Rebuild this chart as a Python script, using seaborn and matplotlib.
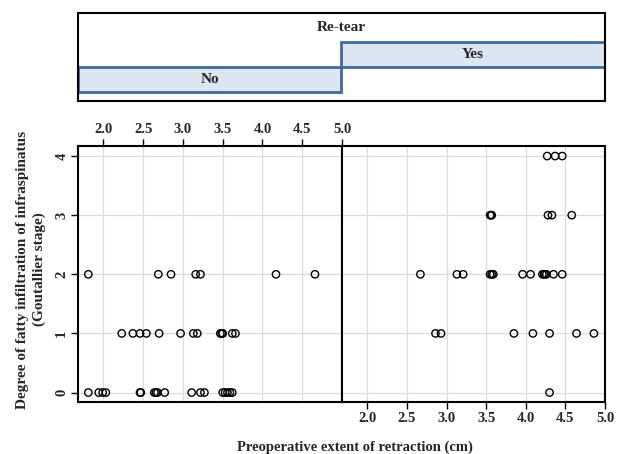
import matplotlib
matplotlib.use('Agg')

import pandas as pd
import matplotlib.pyplot as plt
import seaborn as sns

# 数据
no_retraction = [1.81, 2.69, 2.85, 3.16, 3.22, 4.17, 4.66,
                 2.23, 2.37, 2.46, 2.54, 2.70, 2.97, 3.13, 3.18, 3.47, 3.49, 3.50, 3.62, 3.66,
                 1.81, 1.94, 1.99, 2.03, 2.46, 2.47, 2.64, 2.66, 2.68, 2.77, 3.11, 3.22, 3.27,
                 3.50, 3.53, 3.56, 3.59, 3.62]
no_stage = [2] * 7 + [1] * 13 + [0] * 18

yes_retraction = [4.27, 4.37, 4.46,
                  3.55, 3.56, 3.57, 4.28, 4.33, 4.58,
                  2.67, 3.13, 3.21, 3.55, 3.57, 3.59, 3.96, 4.06, 4.21, 4.23, 4.24, 4.26, 4.35, 4.46,
                  2.86, 2.93, 3.85, 4.09, 4.30, 4.64, 4.86,
                  4.30]
yes_stage = [4] * 3 + [3] * 6 + [2] * 14 + [1] * 7 + [0]

groups = ['No', 'Yes']
x_ticks = [2.0, 2.5, 3.0, 3.5, 4.0, 4.5, 5.0]
y_ticks = [0, 1, 2, 3, 4]

df = pd.DataFrame({
    'retraction': no_retraction + yes_retraction,
    'stage': no_stage + yes_stage,
    'retear': ['No'] * len(no_retraction) + ['Yes'] * len(yes_retraction),
})

sns.set_theme(style='white')
plt.rcParams['font.family'] = ['Liberation Serif', 'DejaVu Serif']
plt.rcParams['font.weight'] = 'bold'

fig = plt.figure(figsize=(6.18, 4.54), dpi=100)
L, R = 78 / 618, 605 / 618
M = 342 / 618
bot, top = 1 - 402 / 454, 1 - 146 / 454

# 条带面板
ax_s = fig.add_axes([L, 1 - 101 / 454, R - L, 88 / 454])
ax_s.bar([0, 1], [1, 1], bottom=[0, 1], width=1, align='edge',
         color='#dce6f2', edgecolor='#3f6a95', linewidth=2, zorder=2)
ax_s.set_xlim(0, 2)
ax_s.set_ylim(-0.36, 3.16)
ax_s.set_xticks([])
ax_s.set_yticks([])
for i, g in enumerate(groups):
    ax_s.text(i + 0.5, i + 0.5, g, ha='center', va='center', fontsize=11, fontweight='bold')
ax_s.text(1, 2.6, 'Re-tear', ha='center', va='center', fontsize=11, fontweight='bold')
for sp in ax_s.spines.values():
    sp.set_linewidth(1.5)
    sp.set_color('black')

# 散点面板
axes = [fig.add_axes([L, bot, M - L, top - bot]),
        fig.add_axes([M, bot, R - M, top - bot])]
for ax, g in zip(axes, groups):
    sub = df[df['retear'] == g]
    sns.scatterplot(data=sub, x='retraction', y='stage', ax=ax,
                    marker='o', s=28, facecolor='none', edgecolor='black',
                    linewidth=1.0, zorder=3)
    ax.set_xlim(1.68, 5.0)
    ax.set_ylim(-0.16, 4.17)
    ax.set_xticks(x_ticks)
    ax.set_yticks(y_ticks)
    ax.grid(True, color='#dcdcdc', linewidth=0.9, zorder=0)
    ax.set_xlabel('')
    ax.set_ylabel('')
    for sp in ax.spines.values():
        sp.set_linewidth(1.5)
        sp.set_color('black')
    ax.tick_params(length=5, width=1, color='black', labelsize=10.5, pad=2)

axes[0].tick_params(axis='x', bottom=False, labelbottom=False, top=True, labeltop=True)
axes[0].tick_params(axis='y', left=True, labelleft=True, labelrotation=90)
for lab in axes[0].get_yticklabels():
    lab.set_va('center')
axes[1].tick_params(axis='x', bottom=True, labelbottom=True, top=False, labeltop=False)
axes[1].tick_params(axis='y', left=False, labelleft=False)
for ax in axes:
    for lab in ax.get_xticklabels() + ax.get_yticklabels():
        lab.set_fontweight('bold')

fig.text(355 / 618, 1 - 447 / 454, 'Preoperative extent of retraction (cm)',
         ha='center', va='center', fontsize=10.5, fontweight='bold')
fig.text(31 / 618, (bot + top) / 2 + 0.01,
         'Degree of fatty infiltration of infraspinatus\n(Goutallier stage)',
         ha='center', va='center', rotation=90, fontsize=11, fontweight='bold',
         linespacing=1.3)

plt.savefig('out.png', dpi=100, facecolor='white')
plt.close()
